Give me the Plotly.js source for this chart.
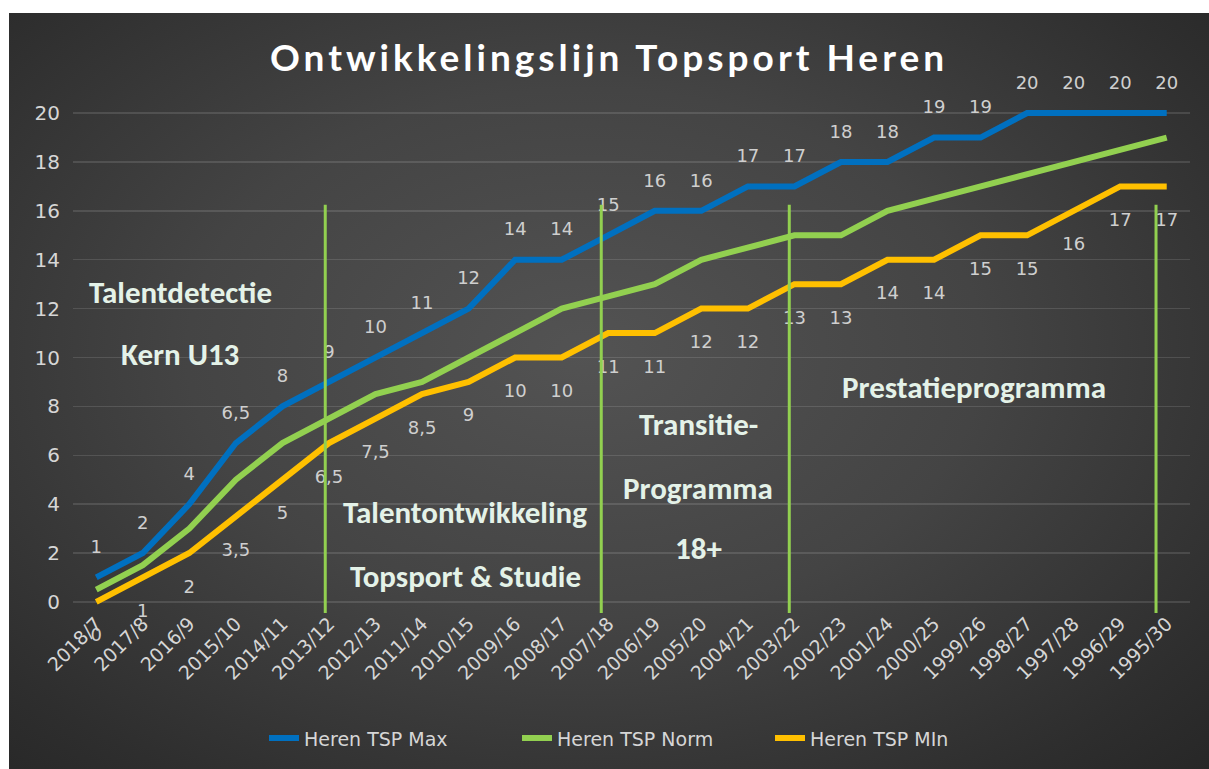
<!DOCTYPE html>
<html>
<head>
<meta charset="utf-8">
<script src="https://cdn.plot.ly/plotly-3.0.1.min.js"></script>
<style>
  body { margin: 0; background: #ffffff; }
  #chart {
    position: absolute; left: 9px; top: 13px; width: 1200px; height: 756px;
    background: radial-gradient(ellipse at 48% 45%, #535353 0%, #444444 45%, #2e2e2e 85%, #272727 100%);
  }
  #chart .gtitle { letter-spacing: 4px; }
</style>
</head>
<body>
<div id="chart"></div>
<script>
// seasons on the x axis
var seizoenen = ["2018/7", "2017/8", "2016/9", "2015/10", "2014/11", "2013/12", "2012/13", "2011/14",
    "2010/15", "2009/16", "2008/17", "2007/18", "2006/19", "2005/20", "2004/21", "2003/22",
    "2002/23", "2001/24", "2000/25", "1999/26", "1998/27", "1997/28", "1996/29", "1995/30"];

var tspMax  = [1, 2, 4, 6.5, 8, 9, 10, 11, 12, 14, 14, 15, 16, 16, 17, 17, 18, 18, 19, 19, 20, 20, 20, 20];
var tspNorm = [0.5, 1.5, 3, 5, 6.5, 7.5, 8.5, 9, 10, 11, 12, 12.5, 13, 14, 14.5, 15, 15, 16, 16.5, 17, 17.5, 18, 18.5, 19];
var tspMin  = [0, 1, 2, 3.5, 5, 6.5, 7.5, 8.5, 9, 10, 10, 11, 11, 12, 12, 13, 13, 14, 14, 15, 15, 16, 17, 17];

// phase boundaries (category position) and phase labels
var grenzen = [4.92, 10.85, 14.89, 22.77];
var faseTekst = ["Talentdetectie", "Kern U13", "Talentontwikkeling", "Topsport & Studie",
    "Transitie-", "Programma", "18+", "Prestatieprogramma"];
var faseX = [1.8, 1.8, 7.93, 7.93, 12.93, 12.93, 12.93, 18.85];
var faseY = [12.7, 10.14, 3.67, 1.06, 7.29, 4.64, 2.2, 8.8];

var blauw = "#0070c0", groen = "#92d050", geel = "#ffc000";
var tekstKleur = "#d6d6d6";
var gothic = "Century Gothic, DejaVu Sans, sans-serif";

function komma(v) { return String(v).replace(".", ","); }

function lijn(naam, y, kleur) {
    return {
        type: "scatter", mode: "lines", name: naam,
        x: seizoenen, y: y,
        line: { color: kleur, width: 6 },
        hoverinfo: "skip"
    };
}

function labels(y, positie, grootte) {
    return {
        type: "scatter", mode: "markers+text",
        x: seizoenen, y: y,
        text: y.map(komma),
        textposition: positie,
        textfont: { family: gothic, size: 18, color: "#cfcfcf" },
        marker: { size: grootte, color: "rgba(0,0,0,0)" },
        cliponaxis: false,
        showlegend: false,
        hoverinfo: "skip"
    };
}

var data = [
    lijn("Heren TSP Max", tspMax, blauw),
    lijn("Heren TSP Norm", tspNorm, groen),
    lijn("Heren TSP MIn", tspMin, geel),
    labels(tspMax, "top center", 30),
    labels(tspMin, "bottom center", 40)
];

var shapes = grenzen.map(function (g) {
    return {
        type: "line", xref: "x", yref: "paper",
        x0: g, x1: g, y0: -0.01, y1: 0.805,
        line: { color: groen, width: 3 }
    };
});

var annotations = faseTekst.map(function (t, i) {
    return {
        text: t, xref: "x", yref: "y", x: faseX[i], y: faseY[i],
        showarrow: false,
        font: { family: "Calibri, Carlito, Open Sans, sans-serif", size: 31, weight: 700, color: "#e4f2e8" }
    };
});

var layout = {
    width: 1200, height: 756,
    paper_bgcolor: "rgba(0,0,0,0)",
    plot_bgcolor: "rgba(0,0,0,0)",
    margin: { l: 64, r: 19, t: 94, b: 159 },
    title: {
        text: "<b>Ontwikkelingslijn Topsport Heren</b>",
        x: 0.5, xref: "container", xanchor: "center",
        y: 0.94, yref: "container", yanchor: "middle",
        font: { family: "Lato, sans-serif", size: 37, color: "#ffffff" }
    },
    xaxis: {
        type: "category",
        range: [-0.5, 23.5],
        tickangle: -45,
        tickfont: { family: gothic, size: 19, color: tekstKleur },
        showgrid: false, zeroline: false, showline: false,
        ticks: ""
    },
    yaxis: {
        range: [-0.25, 20.25],
        dtick: 2,
        tickfont: { family: gothic, size: 20, color: tekstKleur },
        gridcolor: "rgba(255,255,255,0.12)",
        gridwidth: 1.5,
        zeroline: false, showline: false,
        ticks: "",
        ticklabelstandoff: 12
    },
    showlegend: true,
    legend: {
        orientation: "h",
        x: 0.171, xanchor: "left",
        y: -0.26, yanchor: "middle",
        entrywidth: 208,
        font: { family: gothic, size: 19, color: tekstKleur },
        bgcolor: "rgba(0,0,0,0)"
    },
    shapes: shapes,
    annotations: annotations,
    hovermode: false
};

Plotly.newPlot(document.getElementById("chart"), data, layout, { displayModeBar: false, staticPlot: true });
</script>
</body>
</html>
